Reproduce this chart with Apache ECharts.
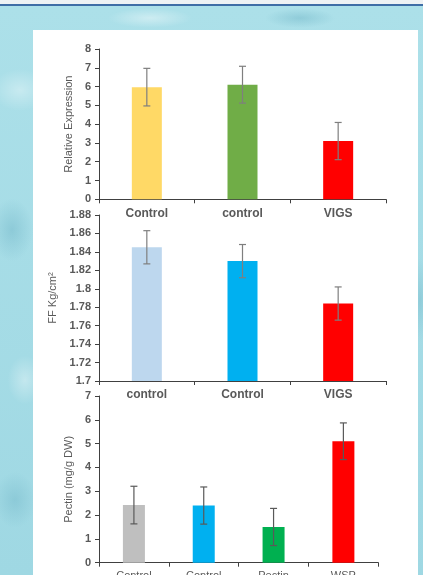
<!DOCTYPE html>
<html>
<head>
<meta charset="utf-8">
<script src="https://cdn.jsdelivr.net/npm/echarts@6/dist/echarts.min.js"></script>
<style>
  html, body { margin: 0; padding: 0; }
  body {
    width: 423px; height: 575px; overflow: hidden; position: relative;
    background:
      radial-gradient(ellipse 40px 30px at 20px 90px, rgba(255,255,255,0.35), rgba(255,255,255,0) 70%),
      radial-gradient(ellipse 30px 45px at 12px 230px, rgba(110,180,198,0.45), rgba(110,180,198,0) 70%),
      radial-gradient(ellipse 25px 35px at 25px 380px, rgba(255,255,255,0.35), rgba(255,255,255,0) 70%),
      radial-gradient(ellipse 30px 40px at 15px 500px, rgba(110,180,198,0.4), rgba(110,180,198,0) 70%),
      radial-gradient(ellipse 60px 14px at 150px 18px, rgba(255,255,255,0.4), rgba(255,255,255,0) 70%),
      radial-gradient(ellipse 50px 14px at 300px 18px, rgba(110,180,198,0.45), rgba(110,180,198,0) 70%),
      radial-gradient(ellipse 12px 60px at 420px 300px, rgba(110,180,198,0.4), rgba(110,180,198,0) 70%),
      linear-gradient(180deg, #eef2f4 0px, #eef2f4 4px, #3f6ea6 4px, #3f6ea6 6px, #ace0e9 6px, #9fd8e3 100%);
  }
  .panel { position: absolute; left: 33px; top: 30px; width: 385px; height: 545px; background: #ffffff; }
  #chart { position: absolute; left: 0; top: 0; width: 423px; height: 575px; }
</style>
</head>
<body>
<div class="panel"></div>
<div id="chart"></div>
<script>
// Relative expression
const expressionCategories = ['Control', 'control', 'VIGS'];
const expressionValues = [5.97, 6.1, 3.1];
const expressionErrors = [1.0, 0.98, 0.99];
const expressionColors = ['#FFD966', '#70AD47', '#FF0000'];

// Fruit firmness
const firmnessCategories = ['control', 'Control', 'VIGS'];
const firmnessValues = [1.845, 1.83, 1.784];
const firmnessErrors = [0.018, 0.018, 0.018];
const firmnessColors = ['#BDD7EE', '#00B0F0', '#FF0000'];

// Pectin content
const pectinCategories = ['Control', 'Control', 'Pectin', 'WSP'];
const pectinValues = [2.42, 2.4, 1.5, 5.1];
const pectinErrors = [0.79, 0.78, 0.78, 0.77];
const pectinColors = ['#BFBFBF', '#00B0F0', '#00B050', '#FF0000'];

const FONT = 'Liberation Sans, Arial, sans-serif';
const AXIS_COLOR = '#404040';
const TEXT_COLOR = '#595959';

function errorSeries(idx, values, errors, color) {
  return {
    type: 'custom',
    xAxisIndex: idx,
    yAxisIndex: idx,
    z: 5,
    data: values.map((v, i) => [i, v - errors[i], v + errors[i]]),
    renderItem: function (params, api) {
      const lo = api.coord([api.value(0), api.value(1)]);
      const hi = api.coord([api.value(0), api.value(2)]);
      const w = 3.5;
      const style = { stroke: color, lineWidth: 1.2 };
      return {
        type: 'group',
        children: [
          { type: 'line', shape: { x1: hi[0], y1: hi[1], x2: lo[0], y2: lo[1] }, style: style },
          { type: 'line', shape: { x1: hi[0] - w, y1: hi[1], x2: hi[0] + w, y2: hi[1] }, style: style },
          { type: 'line', shape: { x1: lo[0] - w, y1: lo[1], x2: lo[0] + w, y2: lo[1] }, style: style }
        ]
      };
    }
  };
}

function barSeries(idx, values, colors, width) {
  return {
    type: 'bar',
    xAxisIndex: idx,
    yAxisIndex: idx,
    barWidth: width,
    data: values.map((v, i) => ({ value: v, itemStyle: { color: colors[i] } })),
    silent: true
  };
}

function xAxis(idx, cats, bold, size) {
  return {
    type: 'category',
    gridIndex: idx,
    data: cats,
    boundaryGap: true,
    axisLine: { lineStyle: { color: AXIS_COLOR, width: 1 } },
    axisTick: { show: true, length: 4, inside: false, lineStyle: { color: AXIS_COLOR } },
    axisLabel: {
      margin: 8,
      fontFamily: FONT,
      fontSize: size,
      fontWeight: bold ? 'bold' : 'normal',
      color: TEXT_COLOR
    },
    splitLine: { show: false }
  };
}

function yAxis(idx, min, max, interval, name, gap) {
  return {
    type: 'value',
    gridIndex: idx,
    min: min,
    max: max,
    interval: interval,
    name: name,
    nameLocation: 'middle',
    nameGap: gap,
    nameRotate: 90,
    nameTextStyle: { fontFamily: FONT, fontSize: 11, color: TEXT_COLOR },
    axisLine: { show: true, lineStyle: { color: AXIS_COLOR, width: 1 } },
    axisTick: { show: true, length: 4, lineStyle: { color: AXIS_COLOR } },
    axisLabel: {
      margin: 8,
      fontFamily: FONT,
      fontSize: 11,
      fontWeight: 'bold',
      color: TEXT_COLOR
    },
    splitLine: { show: false }
  };
}

const chart = echarts.init(document.getElementById('chart'), null, { renderer: 'canvas' });
chart.setOption({
  backgroundColor: 'transparent',
  animation: false,
  grid: [
    { left: 99, top: 49, width: 287, height: 150.3, outerBoundsMode: 'none', containLabel: false },
    { left: 99, top: 215, width: 287, height: 166, outerBoundsMode: 'none', containLabel: false },
    { left: 99, top: 396, width: 279.3, height: 166.7, outerBoundsMode: 'none', containLabel: false }
  ],
  xAxis: [
    xAxis(0, expressionCategories, true, 12),
    xAxis(1, firmnessCategories, true, 12),
    xAxis(2, pectinCategories, false, 11)
  ],
  yAxis: [
    yAxis(0, 0, 8, 1, 'Relative Expression', 22),
    yAxis(1, 1.7, 1.88, 0.02, 'FF Kg/cm²', 30),
    yAxis(2, 0, 7, 1, 'Pectin (mg/g DW)', 22)
  ],
  series: [
    barSeries(0, expressionValues, expressionColors, 30),
    errorSeries(0, expressionValues, expressionErrors, '#7F7F7F'),
    barSeries(1, firmnessValues, firmnessColors, 30),
    errorSeries(1, firmnessValues, firmnessErrors, '#7F7F7F'),
    barSeries(2, pectinValues, pectinColors, 22),
    errorSeries(2, pectinValues, pectinErrors, '#595959')
  ]
});
</script>
</body>
</html>
